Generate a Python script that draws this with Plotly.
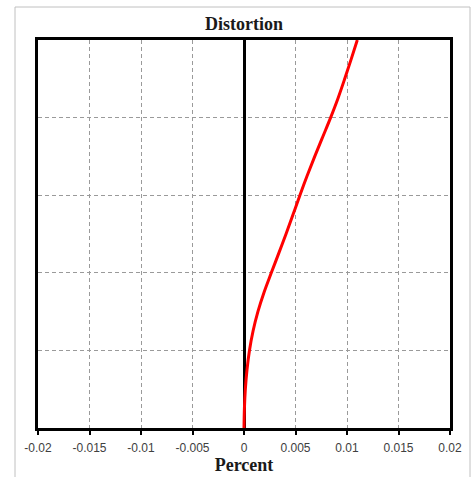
import plotly.graph_objects as go

# Curve data (x in percent, y as fraction of height)
height = [0.0, 0.05, 0.10, 0.15, 0.20, 0.25, 0.30, 0.35, 0.40, 0.45, 0.50,
          0.55, 0.60, 0.65, 0.70, 0.75, 0.80, 0.85, 0.90, 0.95, 1.00]
distortion = [0.0, 0.00004, 0.00013, 0.00029, 0.00053, 0.00088, 0.00135, 0.00195,
              0.00265, 0.00337, 0.00408, 0.00476, 0.00543, 0.00613, 0.00687,
              0.00764, 0.00841, 0.00913, 0.00978, 0.01040, 0.01100]

x_ticks = [-0.02, -0.015, -0.01, -0.005, 0, 0.005, 0.01, 0.015, 0.02]
x_tick_text = ["-0.02", "-0.015", "-0.01", "-0.005", "0", "0.005", "0.01", "0.015", "0.02"]

fig = go.Figure()
fig.add_trace(go.Scatter(
    x=distortion, y=height, mode="lines",
    line=dict(color="#ff0000", width=3, shape="spline", smoothing=1),
    showlegend=False, hoverinfo="skip",
))

fig.update_layout(
    width=474, height=477,
    margin=dict(l=38, r=24, t=40, b=49),
    paper_bgcolor="white", plot_bgcolor="white",
    title=dict(text="<b>Distortion</b>", x=0.5, xref="paper", xanchor="center",
               y=1 - 24 / 477, yref="container", yanchor="middle",
               font=dict(family="Liberation Serif", size=18, color="#1a1a1a")),
    xaxis=dict(
        range=[-0.02, 0.02], tickvals=x_ticks, ticktext=x_tick_text,
        automargin=False,
        showgrid=True, gridcolor="#9a9a9a", griddash="4px,3px", gridwidth=1,
        zeroline=True, zerolinecolor="black", zerolinewidth=2.5,
        showline=True, mirror=True, linecolor="black", linewidth=2.5,
        ticks="outside", ticklen=4, tickcolor="black", tickwidth=1.5,
        ticklabelstandoff=3,
        tickfont=dict(family="Liberation Sans", size=12, color="#404040"),
        title=dict(text="<b>Percent</b>", standoff=4,
                   font=dict(family="Liberation Serif", size=18, color="#1a1a1a")),
    ),
    yaxis=dict(
        range=[0, 1], dtick=0.2, showticklabels=False, automargin=False,
        showgrid=True, gridcolor="#9a9a9a", griddash="4px,3px", gridwidth=1,
        zeroline=False,
        showline=True, mirror=True, linecolor="black", linewidth=2.5,
        ticks="",
    ),
    shapes=[dict(type="rect", xref="paper", yref="paper",
                 x0=(15 - 38) / 412, x1=(470 - 38) / 412,
                 y0=-0.3, y1=(428 - 7) / 388,
                 line=dict(color="#c0c0c0", width=1), layer="below")],
)

fig.write_html("out.html", config={"displayModeBar": False},
               post_script="document.body.style.margin='0';")
